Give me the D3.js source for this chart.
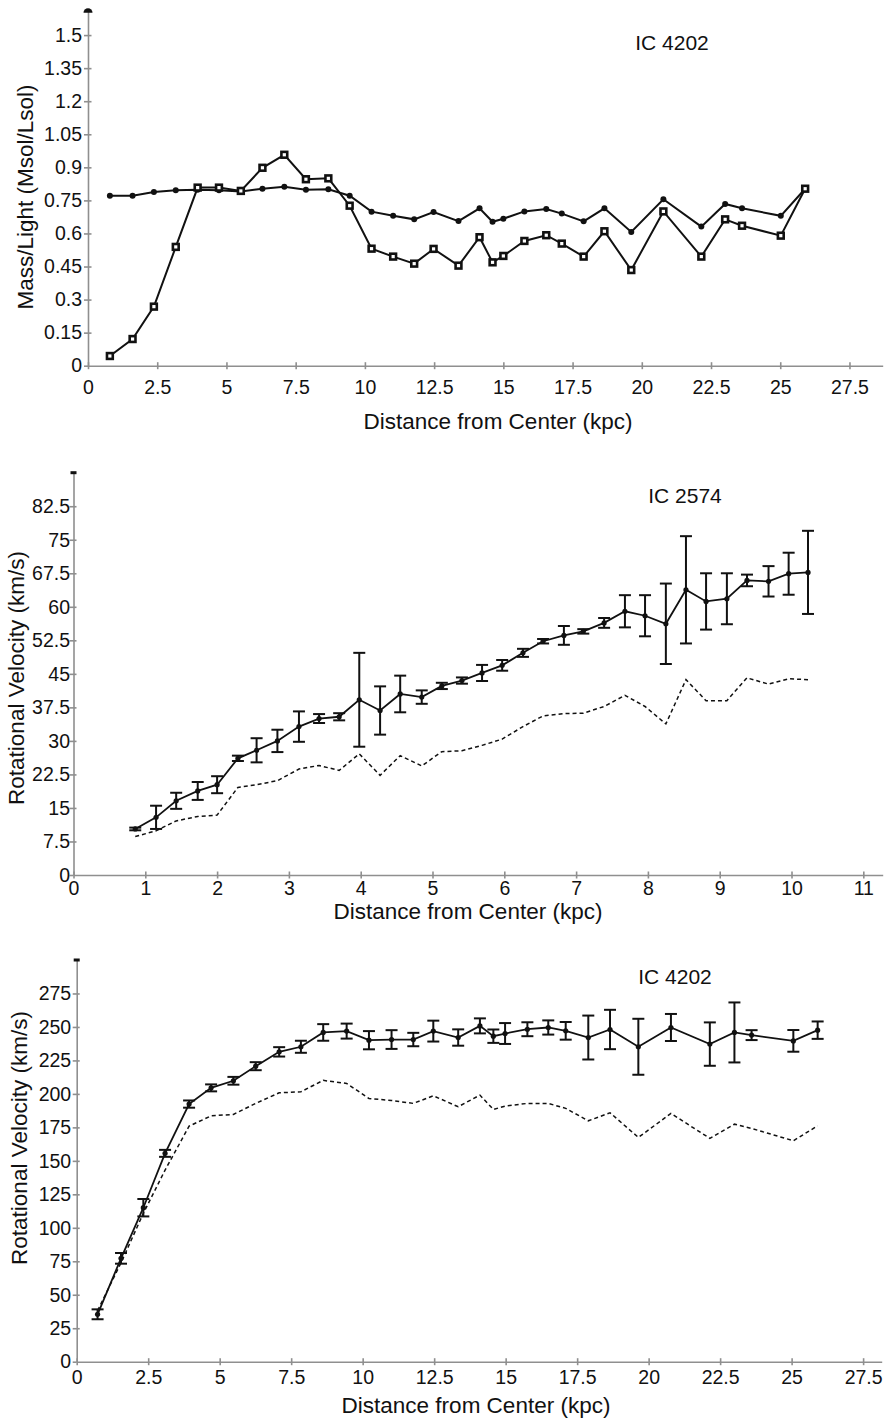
<!DOCTYPE html>
<html>
<head>
<meta charset="utf-8">
<script src="https://cdnjs.cloudflare.com/ajax/libs/d3/7.8.5/d3.min.js"></script>
<style>
  body { margin: 0; background: #fff; }
  svg text { font-family: "Liberation Sans", Arial, sans-serif; fill: #111; }
</style>
</head>
<body>
<div id="chart"></div>
<script>
// ---- top panel: IC 4202 mass to light ----
var mlRadius = [0.79, 1.61, 2.38, 3.17, 3.96, 4.73, 5.52, 6.30, 7.09, 7.87, 8.68, 9.45, 10.24, 11.02, 11.78, 12.48,
  13.38, 14.14, 14.61, 15.00, 15.76, 16.55, 17.11, 17.90, 18.65, 19.62, 20.78, 22.15, 23.01, 23.62, 25.02, 25.90];
var mlDots = [0.771, 0.771, 0.788, 0.796, 0.798, 0.796, 0.790, 0.803, 0.812, 0.798, 0.800, 0.771, 0.699, 0.680, 0.664, 0.697,
  0.656, 0.714, 0.653, 0.667, 0.700, 0.711, 0.690, 0.655, 0.714, 0.607, 0.755, 0.631, 0.734, 0.714, 0.680, 0.803];
var mlSquares = [0.044, 0.121, 0.268, 0.539, 0.808, 0.808, 0.793, 0.898, 0.957, 0.846, 0.850, 0.726, 0.531, 0.495, 0.463, 0.530,
  0.454, 0.583, 0.469, 0.498, 0.566, 0.592, 0.554, 0.495, 0.610, 0.434, 0.700, 0.495, 0.664, 0.635, 0.590, 0.803];
var mlXTicks = [0, 2.5, 5, 7.5, 10, 12.5, 15, 17.5, 20, 22.5, 25, 27.5];
var mlYTicks = [0, 0.15, 0.3, 0.45, 0.6, 0.75, 0.9, 1.05, 1.2, 1.35, 1.5];

// ---- middle panel: IC 2574 rotation curve ----
var r2574 = [0.86, 1.15, 1.43, 1.73, 2.00, 2.29, 2.55, 2.84, 3.14, 3.42, 3.70, 3.98, 4.27, 4.55, 4.85, 5.13, 5.41,
  5.69, 5.97, 6.26, 6.54, 6.83, 7.10, 7.39, 7.68, 7.96, 8.25, 8.53, 8.81, 9.10, 9.38, 9.68, 9.96, 10.23];
var v2574 = [10.3, 12.9, 16.6, 18.8, 20.2, 26.1, 27.9, 30.0, 33.2, 35.0, 35.4, 39.2, 36.8, 40.5, 39.8, 42.3, 43.5,
  45.2, 46.9, 49.7, 52.3, 53.6, 54.5, 56.4, 59.0, 58.0, 56.2, 63.8, 61.2, 61.8, 65.9, 65.7, 67.4, 67.7];
var err2574 = [0.3, 2.6, 1.8, 2.0, 1.9, 0.6, 2.7, 2.5, 3.4, 1.0, 0.8, 10.5, 5.4, 4.1, 1.5, 0.7, 0.7,
  1.8, 1.2, 0.9, 0.5, 2.1, 0.5, 1.1, 3.6, 4.6, 9.0, 12.0, 6.3, 5.7, 1.3, 3.4, 4.7, 9.3];
var dash2574 = [8.6, 9.9, 12.1, 13.1, 13.4, 19.6, 20.2, 21.1, 23.7, 24.5, 23.4, 27.1, 22.3, 26.7, 24.4, 27.6, 27.8,
  29.0, 30.4, 33.2, 35.6, 36.1, 36.2, 37.7, 40.2, 37.7, 33.8, 43.7, 39.0, 39.0, 44.1, 42.7, 43.9, 43.7];
var xTicks2574 = [0, 1, 2, 3, 4, 5, 6, 7, 8, 9, 10, 11];
var yTicks2574 = [0, 7.5, 15, 22.5, 30, 37.5, 45, 52.5, 60, 67.5, 75, 82.5];

// ---- bottom panel: IC 4202 rotation curve ----
var r4202 = [0.73, 1.55, 2.33, 3.09, 3.93, 4.70, 5.48, 6.26, 7.08, 7.84, 8.62, 9.44, 10.22, 11.01, 11.77, 12.47,
  13.34, 14.10, 14.57, 14.98, 15.76, 16.49, 17.10, 17.89, 18.65, 19.64, 20.78, 22.14, 23.00, 23.60, 25.06, 25.91];
var v4202 = [35.4, 77.2, 115.0, 155.6, 192.4, 204.5, 209.8, 220.7, 231.4, 235.2, 245.9, 246.9, 240.1, 240.6, 240.6, 246.9,
  242.1, 250.8, 243.1, 245.1, 248.3, 249.6, 247.1, 242.1, 248.1, 235.2, 249.6, 237.2, 245.9, 243.9, 239.6, 247.6];
var err4202 = [3.7, 4.0, 6.5, 2.6, 2.7, 2.6, 2.9, 3.0, 3.5, 4.5, 6.2, 5.6, 6.8, 7.0, 5.0, 7.8,
  6.1, 5.6, 5.0, 7.8, 5.2, 5.3, 6.6, 16.4, 14.7, 20.9, 10.1, 16.2, 22.4, 3.7, 8.1, 6.5];
var dash4202 = [38.1, 73.9, 110.8, 143.1, 175.9, 183.6, 184.7, 192.9, 200.8, 201.6, 210.1, 207.8, 196.6, 195.1, 192.9, 198.6,
  190.4, 199.1, 188.4, 190.9, 192.9, 192.9, 189.2, 179.9, 185.9, 167.5, 185.4, 166.8, 177.4, 174.2, 165.0, 176.2];
var xTicks4202 = [0, 2.5, 5, 7.5, 10, 12.5, 15, 17.5, 20, 22.5, 25, 27.5];
var yTicks4202 = [0, 25, 50, 75, 100, 125, 150, 175, 200, 225, 250, 275];

var svgWidth = 890;
var svgHeight = 1419;

var svg = d3.select("#chart")
  .append("svg")
  .attr("width", svgWidth)
  .attr("height", svgHeight);

var axisColor = "#8f8f8f";
var tickFont = "19.5px";
var titleFont = "22.5px";

// builds scales + axes for one panel, returns the scales
function makePanel(p) {
  var x = d3.scaleLinear().domain([0, p.xMax]).range([p.left, p.right]);
  var y = d3.scaleLinear().domain([0, p.yMax]).range([p.bottom, p.top]);

  var xAxis = svg.append("g")
    .attr("transform", `translate(0, ${p.bottom})`)
    .call(d3.axisBottom(x).tickValues(p.xTicks).tickFormat(d3.format("~g")).tickSizeOuter(0));

  var yAxis = svg.append("g")
    .attr("transform", `translate(${p.left}, 0)`)
    .call(d3.axisLeft(y).tickValues(p.yTicks).tickFormat(d3.format("~g")).tickSizeOuter(0));

  // grey axis lines, ticks crossing the line
  [xAxis, yAxis].forEach(function(ax) {
    ax.select(".domain").attr("stroke", axisColor).attr("stroke-width", 1.6);
    ax.selectAll(".tick line").attr("stroke", axisColor).attr("stroke-width", 1.6);
    ax.selectAll(".tick text").style("font-size", tickFont).attr("fill", "#111");
  });
  xAxis.selectAll(".tick line").attr("y1", -3.5).attr("y2", 3.5);
  xAxis.selectAll(".tick text").attr("y", p.xLabelY).attr("dy", "0.71em");
  yAxis.selectAll(".tick line").attr("x1", p.yTickRight).attr("x2", -4);
  yAxis.selectAll(".tick text").attr("x", p.yLabelX);
  yAxis.select(".tick").filter(d => d === 0).select("line").attr("x1", 0);

  // little cap at top of y axis
  if (p.roundCap) {
    svg.append("path")
      .attr("d", d3.arc()({ innerRadius: 0, outerRadius: 4.5, startAngle: -Math.PI / 2, endAngle: Math.PI / 2 }))
      .attr("transform", `translate(${p.left}, ${p.top + 3.5})`)
      .attr("fill", "#111");
  } else {
    svg.append("rect")
      .attr("x", p.left - 3).attr("y", p.top - 1.5)
      .attr("width", 6).attr("height", 3)
      .attr("fill", "#111");
  }

  svg.append("text")
    .attr("x", p.titleX).attr("y", p.titleY)
    .attr("text-anchor", "middle").attr("dominant-baseline", "central")
    .style("font-size", "21px")
    .text(p.title);

  svg.append("text")
    .attr("x", p.xTitleX).attr("y", p.xTitleY)
    .attr("text-anchor", "middle").attr("dominant-baseline", "central")
    .style("font-size", titleFont)
    .text("Distance from Center (kpc)");

  svg.append("text")
    .attr("transform", `translate(${p.yTitleX}, ${p.yTitleY}) rotate(-90)`)
    .attr("text-anchor", "middle").attr("dominant-baseline", "central")
    .style("font-size", titleFont)
    .text(p.yTitle);

  return { x: x, y: y };
}

// draws a rotation curve with error bars and the dashed curve
function drawRotation(sc, radius, vel, err, dashed) {
  var pts = radius.map((r, i) => ({ r: r, v: vel[i], e: err[i], d: dashed[i] }));

  svg.append("path")
    .datum(pts)
    .attr("fill", "none")
    .attr("stroke", "#111")
    .attr("stroke-width", 1.5)
    .attr("stroke-dasharray", "4,3")
    .attr("d", d3.line().x(d => sc.x(d.r)).y(d => sc.y(d.d)));

  svg.append("path")
    .datum(pts)
    .attr("fill", "none")
    .attr("stroke", "#111")
    .attr("stroke-width", 1.8)
    .attr("d", d3.line().x(d => sc.x(d.r)).y(d => sc.y(d.v)));

  var bars = svg.append("g").selectAll("g")
    .data(pts)
    .enter()
    .append("g")
    .attr("stroke", "#111")
    .attr("stroke-width", 2);

  bars.append("line")
    .attr("x1", d => sc.x(d.r)).attr("x2", d => sc.x(d.r))
    .attr("y1", d => sc.y(d.v - d.e)).attr("y2", d => sc.y(d.v + d.e));
  bars.append("line")
    .attr("x1", d => sc.x(d.r) - 6).attr("x2", d => sc.x(d.r) + 6)
    .attr("y1", d => sc.y(d.v + d.e)).attr("y2", d => sc.y(d.v + d.e));
  bars.append("line")
    .attr("x1", d => sc.x(d.r) - 6).attr("x2", d => sc.x(d.r) + 6)
    .attr("y1", d => sc.y(d.v - d.e)).attr("y2", d => sc.y(d.v - d.e));

  svg.append("g").selectAll("circle")
    .data(pts)
    .enter()
    .append("circle")
    .attr("cx", d => sc.x(d.r))
    .attr("cy", d => sc.y(d.v))
    .attr("r", 2.6)
    .attr("fill", "#111");
}

// ---------- top ----------
var topSc = makePanel({
  left: 88, right: 882.7, xMax: 28.7, bottom: 365.7, top: 9.3, yMax: 1.617,
  xTicks: mlXTicks, yTicks: mlYTicks, xLabelY: 14, yLabelX: -6, yTickRight: 3.5,
  roundCap: true, title: "IC 4202", titleX: 672, titleY: 42,
  xTitleX: 498, xTitleY: 421.7, yTitleX: 25, yTitleY: 197, yTitle: "Mass/Light (Msol/Lsol)"
});

var mlPts = mlRadius.map((r, i) => ({ r: r, dot: mlDots[i], sq: mlSquares[i] }));

svg.append("path")
  .datum(mlPts)
  .attr("fill", "none").attr("stroke", "#111").attr("stroke-width", 2)
  .attr("d", d3.line().x(d => topSc.x(d.r)).y(d => topSc.y(d.dot)));

svg.append("path")
  .datum(mlPts)
  .attr("fill", "none").attr("stroke", "#111").attr("stroke-width", 2)
  .attr("d", d3.line().x(d => topSc.x(d.r)).y(d => topSc.y(d.sq)));

svg.append("g").selectAll("circle")
  .data(mlPts)
  .enter()
  .append("circle")
  .attr("cx", d => topSc.x(d.r))
  .attr("cy", d => topSc.y(d.dot))
  .attr("r", 3)
  .attr("fill", "#111");

svg.append("g").selectAll("rect")
  .data(mlPts)
  .enter()
  .append("rect")
  .attr("x", d => topSc.x(d.r) - 2.9)
  .attr("y", d => topSc.y(d.sq) - 2.9)
  .attr("width", 5.8)
  .attr("height", 5.8)
  .attr("fill", "#fff")
  .attr("stroke", "#111")
  .attr("stroke-width", 2.6);

// ---------- middle ----------
var midSc = makePanel({
  left: 73.5, right: 882.7, xMax: 11.27, bottom: 875, top: 472.7, yMax: 90,
  xTicks: xTicks2574, yTicks: yTicks2574, xLabelY: 6, yLabelX: -3.5, yTickRight: 3,
  roundCap: false, title: "IC 2574", titleX: 685, titleY: 495,
  xTitleX: 468, xTitleY: 911.7, yTitleX: 16.7, yTitleY: 678, yTitle: "Rotational Velocity (km/s)"
});
drawRotation(midSc, r2574, v2574, err2574, dash2574);

// ---------- bottom ----------
var botSc = makePanel({
  left: 76.7, right: 881.7, xMax: 28.15, bottom: 1361.7, top: 960, yMax: 300,
  xTicks: xTicks4202, yTicks: yTicks4202, xLabelY: 8, yLabelX: -5.5, yTickRight: 3,
  roundCap: false, title: "IC 4202", titleX: 675, titleY: 976,
  xTitleX: 476, xTitleY: 1405, yTitleX: 19, yTitleY: 1138, yTitle: "Rotational Velocity (km/s)"
});
drawRotation(botSc, r4202, v4202, err4202, dash4202);
</script>
</body>
</html>
